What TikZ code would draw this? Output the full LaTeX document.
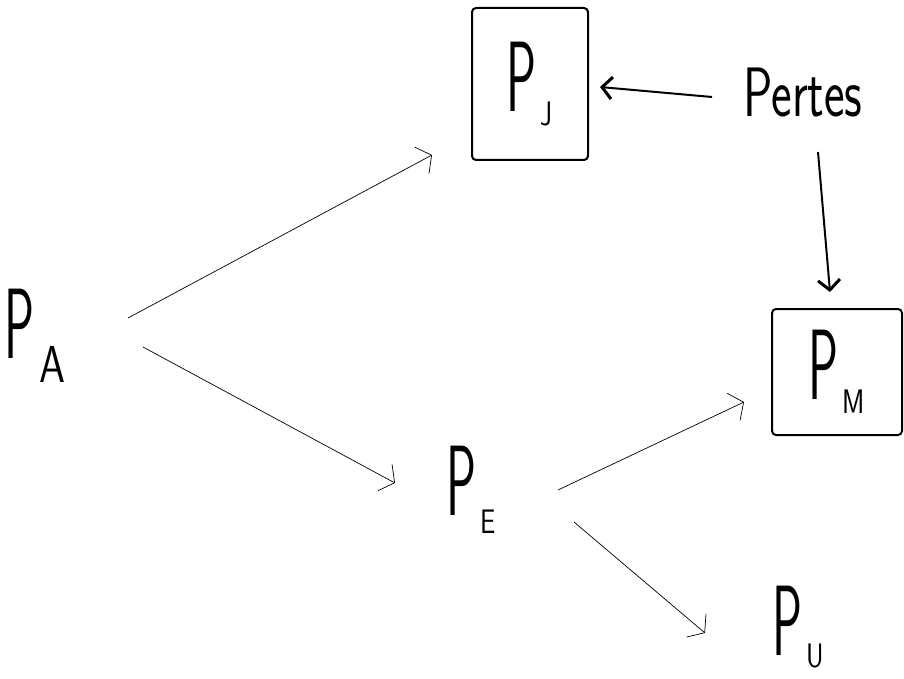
\documentclass[tikz,border=0pt]{standalone}
\usepackage{fontspec}
\usetikzlibrary{arrows.meta}

% Tall narrow "P" with a lowered subscript letter
\newcommand\powlabel[3][34]{%
  \scalebox{0.5}[1]{\fontsize{100}{100}\selectfont P}%
  \hspace{4pt}\raisebox{-#3pt}{\scalebox{0.8}[1]{\fontsize{#1}{#1}\selectfont #2}}}

\tikzset{
  lbl/.style={font=\sffamily, inner sep=0pt},
  boxed/.style={lbl, draw, line width=2pt, rounded corners=4pt},
  flow/.style={line width=0.7pt, -{Straight Barb[length=11pt,width=30pt]}},
  loss/.style={line width=2pt, -{Straight Barb[length=10pt,width=22pt,line width=3pt 0]}}
}

\begin{document}
\begin{tikzpicture}[x=1pt,y=-1pt]
\useasboundingbox (0,0) rectangle (904,679);

% quantities
\node[lbl] (pa) at (35,336) {\powlabel[52]{A}{24}};
\node[boxed, minimum width=116pt, minimum height=152pt] (pj) at (530,84)
  {\powlabel{J}{14}};
\node[lbl] (pertes) at (803,92)
  {\scalebox{0.7}[1]{\fontsize{70}{70}\selectfont Pertes}};
\node[boxed, minimum width=130pt, minimum height=126pt] (pm) at (837,372)
  {\powlabel{M}{14}};
\node[lbl] (pe) at (471,490) {\powlabel{E}{18}};
\node[lbl] (pu) at (798,627) {\powlabel{U}{12}};

% power flows
\draw[flow] ([shift={(93,-18)}]pa.center) -- ([shift={(-98,71)}]pj.center);
\draw[flow] ([shift={(108,11)}]pa.center) -- ([shift={(-76,-7)}]pe.center);
\draw[flow] ([shift={(87,0)}]pe.center) -- ([shift={(-93,30)}]pm.center);
\draw[flow] ([shift={(103,32)}]pe.center) -- ([shift={(-93,6)}]pu.center);

% losses
\draw[loss] ([shift={(-91,5)}]pertes.center) -- ([shift={(70,3)}]pj.center);
\draw[loss] ([shift={(15,60)}]pertes.center) -- ([shift={(-7,-80)}]pm.center);
\end{tikzpicture}
\end{document}
